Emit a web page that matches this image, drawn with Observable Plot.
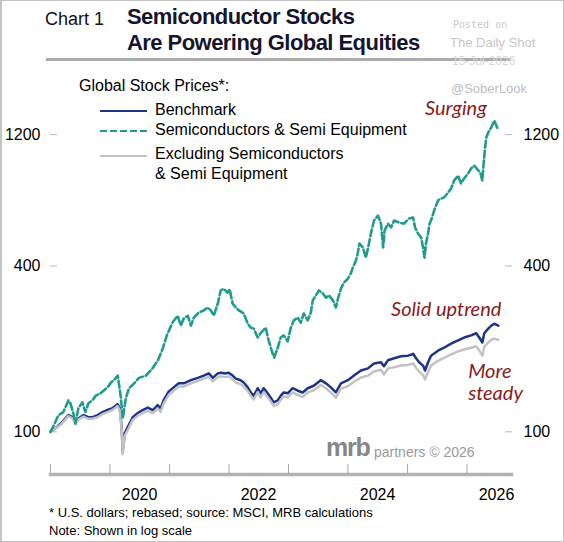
<!DOCTYPE html>
<html>
<head>
<meta charset="utf-8">
<script src="https://cdn.jsdelivr.net/npm/d3@7"></script>
<script src="https://cdn.jsdelivr.net/npm/@observablehq/plot@0.6"></script>
<style>
  body { margin: 0; background: #fff; }
  #wrap { position: relative; width: 564px; height: 542px; overflow: hidden;
          font-family: "Liberation Sans", Arial, sans-serif; color: #000; background: #fff; }
  #plot { position: absolute; left: 0; top: 0; }
  .abs { position: absolute; white-space: nowrap; line-height: 1; }
  .border { position: absolute; left: 0; top: 0; width: 564px; height: 542px;
            box-sizing: border-box; border: 1px solid #c4c4c4; border-left: 2px solid #c4c4c4; pointer-events: none; }
</style>
</head>
<body>
<div id="wrap">
  <div id="plot"></div>

  <!-- header -->
  <div class="abs" style="left:45px;top:10px;font-size:18px;color:#111;">Chart 1</div>
  <div class="abs" style="left:127px;top:4px;font-size:22px;line-height:26px;font-weight:bold;color:#15152e;letter-spacing:-0.55px;">Semiconductor Stocks<br>Are Powering Global Equities</div>
  <div class="abs" style="left:46px;top:58px;width:465px;height:3px;background:#ababab;"></div>

  <!-- posting stamp -->
  <div class="abs" style="left:453px;top:20px;font-size:10px;color:#c9c9c9;font-family:'DejaVu Sans Mono',monospace;">Posted on</div>
  <div class="abs" style="left:450px;top:36px;font-size:13px;color:#c6c6c6;">The Daily Shot</div>
  <div class="abs" style="left:452px;top:55px;font-size:12px;color:#d6d6d6;">15-Jul-2026</div>
  <div class="abs" style="left:451px;top:82px;font-size:13px;color:#bdbdbd;">@SoberLook</div>

  <!-- legend -->
  <div class="abs" style="left:79px;top:78px;font-size:16px;">Global Stock Prices*:</div>
  <svg class="abs" style="left:100px;top:100px;" width="50" height="64">
    <line x1="0" x2="47" y1="11" y2="11" stroke="#1c3586" stroke-width="2"></line>
    <line x1="0" x2="47" y1="31" y2="31" stroke="#1f9b8e" stroke-width="2" stroke-dasharray="7,3"></line>
    <line x1="0" x2="47" y1="56" y2="56" stroke="#c2c2c2" stroke-width="2"></line>
  </svg>
  <div class="abs" style="left:155px;top:102px;font-size:16px;">Benchmark</div>
  <div class="abs" style="left:155px;top:122px;font-size:16px;">Semiconductors &amp; Semi Equipment</div>
  <div class="abs" style="left:155px;top:146px;font-size:16px;">Excluding Semiconductors</div>
  <div class="abs" style="left:155px;top:166px;font-size:16px;">&amp; Semi Equipment</div>

  <!-- logo -->
  <div class="abs" style="left:326px;top:435px;font-size:25px;font-weight:bold;color:#868686;letter-spacing:-1.2px;">mrb</div>
  <div class="abs" style="left:374px;top:445px;font-size:14px;color:#9a9a9a;">partners © 2026</div>

  <!-- notes -->
  <div class="abs" style="left:49px;top:506px;font-size:13px;">* U.S. dollars; rebased; source: MSCI, MRB calculations</div>
  <div class="abs" style="left:49px;top:524px;font-size:13px;">Note: Shown in log scale</div>

  <div class="border"></div>
</div>

<script>
// Semiconductors & Semi Equipment index (rebased to 100)
const semiDates = [
  "2019-01-01","2019-01-19","2019-02-19","2019-03-21","2019-04-21","2019-05-03","2019-05-21","2019-06-03",
  "2019-06-21","2019-07-16","2019-08-03","2019-08-22","2019-09-15","2019-10-04","2019-11-04","2019-11-22",
  "2019-12-17","2020-01-07","2020-01-25","2020-02-18","2020-03-08","2020-03-20","2020-04-08","2020-04-27",
  "2020-05-28","2020-06-27","2020-08-09","2020-09-21","2020-10-22","2020-11-22","2020-12-15","2021-01-20",
  "2021-02-20","2021-03-11","2021-03-29","2021-04-23","2021-05-12","2021-05-30","2021-06-29","2021-07-30",
  "2021-08-23","2021-09-11","2021-09-29","2021-10-24","2021-11-11","2021-11-29","2021-12-24","2022-01-05",
  "2022-01-23","2022-02-11","2022-03-02","2022-04-01","2022-04-26","2022-05-14","2022-06-02","2022-06-26",
  "2022-07-14","2022-08-14","2022-09-01","2022-09-26","2022-10-05","2022-10-27","2022-11-14","2022-12-03",
  "2022-12-27","2023-01-15","2023-02-03","2023-02-27","2023-03-17","2023-04-05","2023-04-29","2023-05-18",
  "2023-05-30","2023-06-18","2023-07-07","2023-07-31","2023-08-19","2023-09-06","2023-10-01","2023-10-19",
  "2023-11-01","2023-11-19","2023-12-07","2024-01-01","2024-01-19","2024-01-31","2024-02-19","2024-03-02",
  "2024-03-11","2024-04-02","2024-04-20","2024-05-03","2024-05-21","2024-06-09","2024-07-03","2024-07-22",
  "2024-08-04","2024-08-13","2024-09-03","2024-09-22","2024-10-10","2024-11-10","2024-12-10","2025-01-10",
  "2025-02-04","2025-02-16","2025-03-06","2025-03-25","2025-04-06","2025-04-15","2025-04-24","2025-05-07",
  "2025-05-16","2025-05-25","2025-06-13","2025-07-07","2025-07-26","2025-08-13","2025-09-07","2025-09-25",
  "2025-10-14","2025-11-07","2025-11-25","2025-12-14","2026-01-08","2026-01-26","2026-02-14","2026-03-11",
  "2026-03-23","2026-04-05","2026-04-11","2026-04-20","2026-04-29","2026-05-11","2026-05-30","2026-06-17",
  "2026-06-30","2026-07-12"
];
const semiValues = [
  100,105,115,118,130,127,117,107,
  122,128,118,127,130,135,138,141,
  145,151,154,160,133,112,133,144,
  150,157,160,171,182,202,224,250,
  264,243,258,264,243,260,271,276,
  283,276,264,292,326,331,320,329,
  292,283,276,269,247,239,237,220,
  228,239,215,192,186,202,220,224,
  213,239,254,260,249,269,254,271,
  300,313,326,318,307,313,300,283,
  305,331,348,360,376,395,419,448,
  483,467,429,463,525,585,610,570,
  467,538,570,552,585,575,570,595,
  600,552,525,508,467,429,483,525,
  570,585,636,692,703,709,739,765,
  818,852,797,831,867,904,927,889,
  874,818,912,1051,1171,1221,1274,1350,
  1295,1242
];

// Benchmark and ex-semiconductor indexes share the same dates
const benchDates = [
  "2019-01-01","2019-02-01","2019-03-04","2019-04-03","2019-04-21","2019-05-16","2019-06-03","2019-06-22",
  "2019-07-23","2019-08-22","2019-09-16","2019-10-17","2019-11-16","2019-12-17","2020-01-17","2020-02-17",
  "2020-03-01","2020-03-13","2020-03-19","2020-04-01","2020-04-19","2020-05-20","2020-06-20","2020-07-20",
  "2020-08-20","2020-09-20","2020-10-20","2020-11-07","2020-11-25","2020-12-26","2021-01-26","2021-02-26",
  "2021-03-29","2021-05-12","2021-06-23","2021-07-30","2021-08-30","2021-09-23","2021-10-24","2021-11-11",
  "2021-12-12","2021-12-30","2022-01-23","2022-02-11","2022-03-13","2022-04-01","2022-04-26","2022-05-14",
  "2022-06-02","2022-06-26","2022-07-14","2022-08-02","2022-08-26","2022-09-14","2022-10-02","2022-10-27",
  "2022-11-14","2022-12-03","2022-12-27","2023-01-27","2023-02-27","2023-03-29","2023-04-29","2023-06-05",
  "2023-07-18","2023-08-19","2023-09-18","2023-10-19","2023-11-19","2024-01-01","2024-02-07","2024-03-21",
  "2024-05-03","2024-06-09","2024-07-22","2024-08-09","2024-09-03","2024-10-10","2024-11-22","2025-01-04",
  "2025-02-04","2025-02-22","2025-03-13","2025-04-06","2025-04-18","2025-05-07","2025-05-25","2025-07-07",
  "2025-08-13","2025-09-25","2025-11-07","2025-12-14","2026-01-26","2026-02-26","2026-03-17","2026-04-05",
  "2026-04-17","2026-05-11","2026-05-30","2026-06-17","2026-07-12"
];
const benchValues = [
  100,103,107,112,115,113,108,112,
  115,113,113,115,118,120,122,126,
  122,104,85,99,104,113,117,120,
  122.5,120,125,121.5,130,140,145,150,
  150,154,157,160,163,157,163,164,
  163,164,160,156,154,151,145,139,
  135,144,138,144,138,133,128,130,
  135,139,138,144,141,139,144,147,
  154,150,145,139,150,154,160,167,
  170,177,179,173,182,185,188,189,
  192,185,179,174,167,179,189,197,
  202,209,215,220,224,228,220,211,
  228,237,243,247,243
];
const exSemiValues = [
  100,103,106,111,114,112,107,111,
  113.5,111.5,111.5,113,116,118,120,124,
  120,102,83,97,101.5,110.5,114.5,117,
  119.5,117,121.5,118,126.5,136,141,146,
  146,150,153,156,158.5,152.5,158,159,
  158,159,155,151,149,146,140.5,135,
  131,139.5,133.5,139.5,133.5,129,124,126,
  130.5,134.5,133.5,139,136,134,139,141.5,
  148,144,139,133,143.5,146.5,152,157.5,
  160,165.5,168,161.5,170,171.5,174,175,
  177,171,165.5,160.5,155,165,174,181,
  185.5,191,196,199,202,204.5,197.5,189,
  204,211,216,218,216
];

// Axis ticks
const yTicks = [100, 400, 1200];
const yearStarts = ["2019-01-01","2020-01-01","2021-01-01","2022-01-01","2023-01-01","2024-01-01","2025-01-01","2026-01-01"];
const yearLabels = ["2020-07-01","2022-07-01","2024-07-01","2026-07-01"];

// Callouts
const noteTexts = ["Surging", "Solid uptrend", "More\nsteady"];
const noteDates = ["2025-04-18", "2024-09-22", "2026-01-08"];
const noteValues = [1408, 264, 131];

const parse = d3.utcParse("%Y-%m-%d");
const semiRows = semiDates.map((d, i) => ({date: parse(d), value: semiValues[i]}));
const benchRows = benchDates.map((d, i) => ({date: parse(d), value: benchValues[i]}));
const exRows = benchDates.map((d, i) => ({date: parse(d), value: exSemiValues[i]}));
const notes = noteTexts.map((t, i) => ({text: t, date: parse(noteDates[i]), value: noteValues[i]}));

const chart = Plot.plot({
  width: 564,
  height: 542,
  marginLeft: 50,
  marginRight: 53,
  marginTop: 73,
  marginBottom: 68,
  x: {type: "utc", domain: [parse("2019-01-01"), parse("2026-10-01")]},
  y: {type: "log", domain: [70, 2000]},
  style: {fontFamily: "'Liberation Sans', Arial, sans-serif", fontSize: "16px", background: "transparent", color: "#000"},
  marks: [
    Plot.frame({anchor: "bottom", stroke: "#b3b3b3", strokeWidth: 3.5}),
    Plot.axisX({ticks: yearStarts.map(parse), tickSize: -10, tickFormat: () => "", stroke: "#a8a8a8", label: null}),
    Plot.axisX({ticks: yearLabels.map(parse), tickSize: 0, tickPadding: 14, tickFormat: d3.utcFormat("%Y"),
                fill: "#000", fontSize: 16, label: null}),
    Plot.axisY({anchor: "left", ticks: yTicks, tickSize: -7, tickPadding: 17, tickFormat: d => String(d),
                stroke: "#b8b8b8", fill: "#000", fontSize: 16, label: null}),
    Plot.axisY({anchor: "right", ticks: yTicks, tickSize: -7, tickPadding: 19, tickFormat: d => String(d),
                stroke: "#b8b8b8", fill: "#000", fontSize: 16, label: null}),
    Plot.line(benchRows, {x: "date", y: "value", stroke: "#1c3586", strokeWidth: 2.5}),
    Plot.line(exRows, {x: "date", y: "value", stroke: "#c2c2c2", strokeWidth: 2.5}),
    Plot.line(semiRows, {x: "date", y: "value", stroke: "#1f9b8e", strokeWidth: 2.6, strokeDasharray: "7,3"}),
    Plot.text(notes, {x: "date", y: "value", text: "text", textAnchor: "start", lineAnchor: "bottom",
                      fill: "#8b1a1a", fontStyle: "italic", fontFamily: "Lato, 'Open Sans', sans-serif",
                      fontSize: 20, lineHeight: 1.1})
  ]
});
document.getElementById("plot").appendChild(chart);
</script>
</body>
</html>
